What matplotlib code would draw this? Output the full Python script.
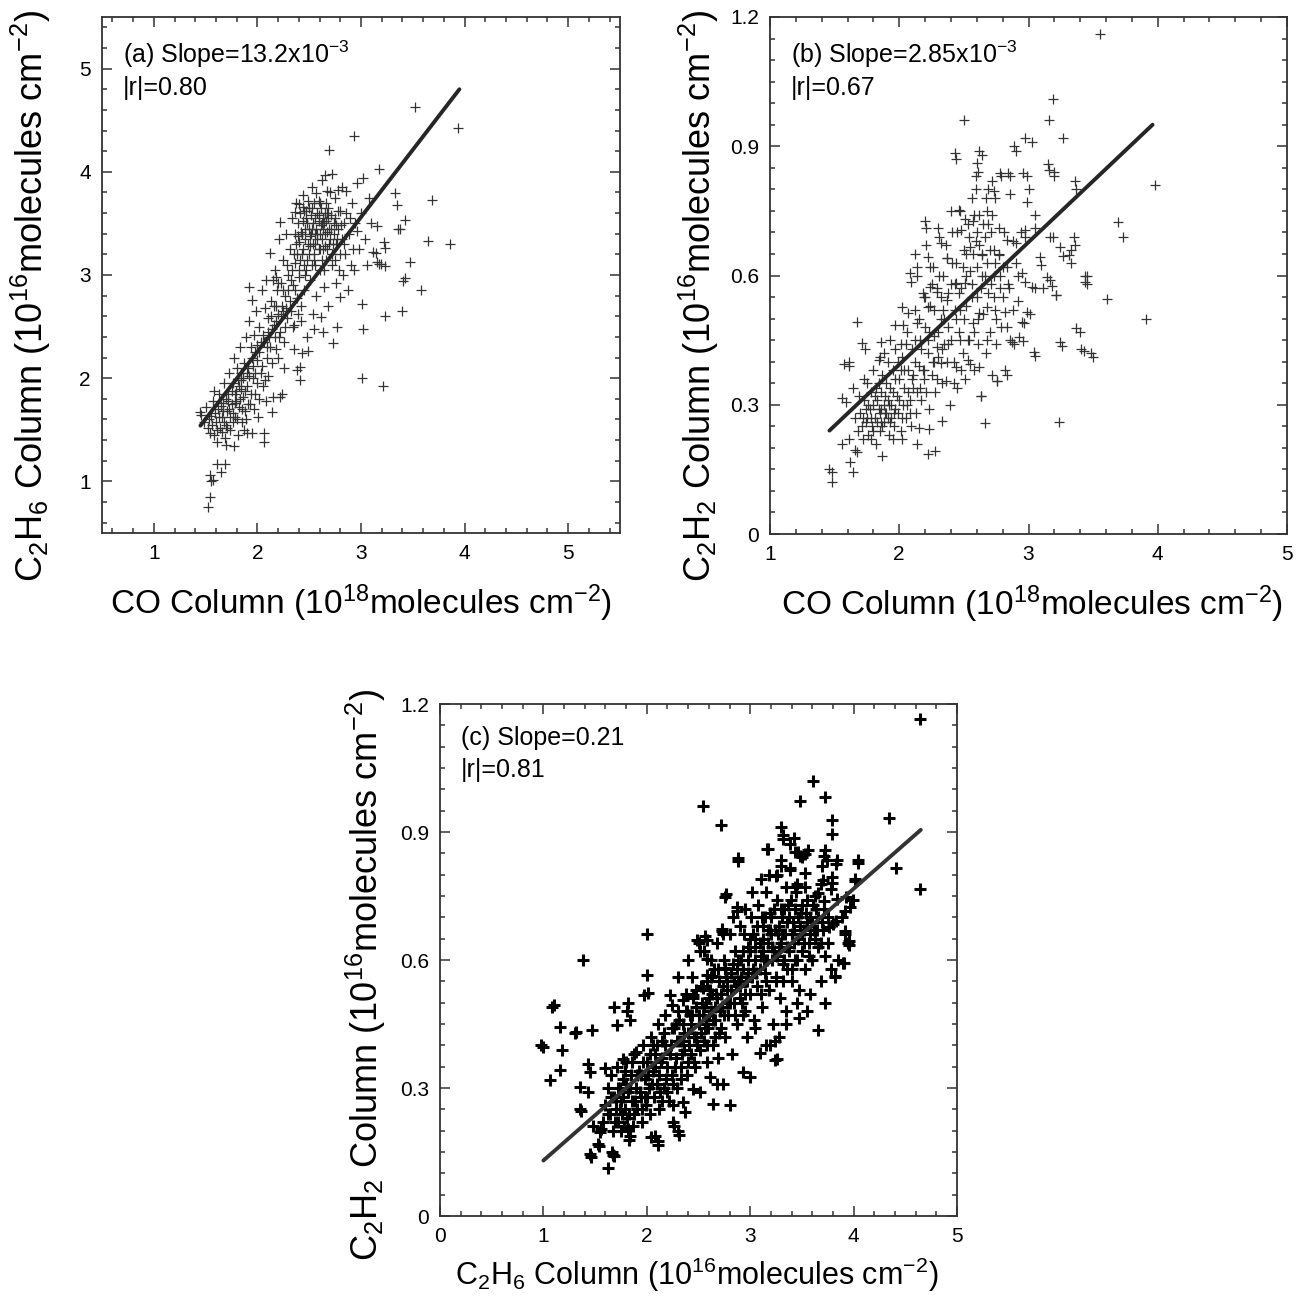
"""Three-panel CO / C2H6 / C2H2 column correlation scatter plots."""

import matplotlib
matplotlib.use("Agg")
import matplotlib.pyplot as plt
import numpy as np
from matplotlib.ticker import MultipleLocator

plt.rcParams["font.family"] = ["Liberation Sans", "DejaVu Sans"]
plt.rcParams["mathtext.fontset"] = "custom"
plt.rcParams["mathtext.rm"] = "Liberation Sans"
plt.rcParams["mathtext.it"] = "Liberation Sans:italic"
plt.rcParams["mathtext.bf"] = "Liberation Sans:bold"

# (a) CO column (1e18) vs C2H6 column (1e16)
PTS_A = [
    (1.52, 0.75), (1.54, 0.85), (1.55, 1.00), (1.54, 1.06), (1.57, 1.01), (1.61, 1.17), (1.65, 1.09),
    (1.69, 1.17), (1.70, 1.35), (1.77, 1.34), (1.45, 1.67), (1.46, 1.64), (1.48, 1.58), (1.50, 1.72),
    (1.52, 1.52), (1.54, 1.47), (1.53, 1.60), (1.55, 1.63), (1.57, 1.78), (1.58, 1.45), (1.58, 1.88),
    (1.60, 1.58), (1.61, 1.38), (1.62, 1.70), (1.63, 1.85), (1.64, 1.52), (1.66, 1.62), (1.67, 1.76),
    (1.68, 1.95), (1.69, 1.42), (1.70, 1.55), (1.71, 1.68), (1.72, 1.85), (1.73, 2.05), (1.74, 1.50),
    (1.74, 1.62), (1.75, 1.75), (1.76, 1.95), (1.76, 1.58), (1.77, 2.20), (1.78, 1.62), (1.79, 1.88),
    (1.79, 1.78), (1.80, 2.10), (1.81, 1.45), (1.82, 1.72), (1.82, 1.92), (1.83, 2.30), (1.84, 1.98),
    (1.84, 2.05), (1.85, 1.58), (1.86, 1.82), (1.87, 2.15), (1.87, 1.50), (1.88, 1.68), (1.89, 2.40),
    (1.90, 1.92), (1.90, 1.47), (1.91, 2.10), (1.92, 2.55), (1.93, 1.75), (1.94, 2.30), (1.95, 1.47),
    (1.95, 2.76), (1.96, 2.00), (1.97, 2.42), (1.98, 1.85), (1.99, 2.65), (2.00, 2.18), (2.01, 1.62),
    (2.02, 2.50), (2.03, 2.05), (2.04, 2.85), (2.05, 1.92), (2.06, 1.38), (2.06, 1.47), (2.06, 2.35),
    (2.07, 2.68), (2.08, 1.78), (2.09, 2.20), (2.10, 2.58), (1.92, 2.88), (1.98, 2.25), (2.03, 2.35),
    (2.08, 2.95), (2.00, 1.95), (2.10, 2.02), (2.11, 2.40), (2.12, 3.21), (2.13, 2.75), (2.14, 1.67),
    (2.14, 2.15), (2.15, 1.82), (2.15, 2.95), (2.16, 2.52), (2.17, 3.05), (2.18, 2.28), (2.19, 2.85),
    (2.20, 2.62), (2.21, 3.35), (2.22, 1.82), (2.22, 2.45), (2.22, 3.51), (2.23, 2.92), (2.24, 1.85),
    (2.24, 2.70), (2.25, 3.15), (2.26, 2.35), (2.27, 2.80), (2.28, 3.40), (2.29, 2.58), (2.30, 3.00),
    (2.13, 2.60), (2.18, 2.98), (2.26, 2.10), (2.20, 2.20), (2.28, 2.68), (2.17, 2.40), (2.31, 3.25),
    (2.32, 2.65), (2.33, 3.55), (2.34, 2.90), (2.35, 2.28), (2.36, 3.12), (2.37, 3.70), (2.38, 2.08),
    (2.38, 2.78), (2.39, 3.38), (2.40, 2.98), (2.41, 1.98), (2.41, 2.11), (2.41, 3.60), (2.42, 2.55),
    (2.43, 2.24), (2.43, 3.20), (2.44, 3.78), (2.45, 2.85), (2.46, 3.45), (2.47, 3.05), (2.48, 2.40),
    (2.49, 2.26), (2.49, 3.30), (2.50, 3.65), (2.33, 3.05), (2.36, 3.40), (2.40, 3.32), (2.44, 3.52),
    (2.47, 3.62), (2.35, 2.52), (2.45, 3.10), (2.42, 2.70), (2.40, 3.69), (2.36, 3.61), (2.44, 3.66),
    (2.51, 2.95), (2.52, 3.40), (2.53, 3.85), (2.54, 2.62), (2.55, 3.20), (2.56, 3.55), (2.57, 2.80),
    (2.58, 3.35), (2.59, 3.72), (2.60, 3.05), (2.61, 2.59), (2.61, 3.48), (2.62, 3.92), (2.63, 3.25),
    (2.64, 2.88), (2.65, 3.60), (2.65, 3.97), (2.66, 3.15), (2.67, 3.42), (2.68, 2.70), (2.69, 4.21),
    (2.69, 3.30), (2.70, 3.80), (2.72, 3.98), (2.53, 3.10), (2.56, 3.30), (2.58, 3.60), (2.60, 3.40),
    (2.62, 3.15), (2.64, 3.50), (2.66, 3.70), (2.68, 3.55), (2.55, 2.48), (2.63, 2.45), (2.57, 3.79),
    (2.67, 3.81), (2.50, 3.45), (2.54, 3.50), (2.59, 3.25), (2.71, 3.45), (2.72, 3.10), (2.73, 2.34),
    (2.74, 3.50), (2.75, 3.75), (2.76, 2.92), (2.77, 2.50), (2.77, 3.35), (2.78, 3.62), (2.78, 3.82),
    (2.80, 2.79), (2.80, 3.20), (2.81, 3.48), (2.82, 3.85), (2.83, 3.00), (2.84, 3.30), (2.86, 3.60),
    (2.86, 3.81), (2.87, 2.85), (2.88, 3.40), (2.90, 3.10), (2.91, 3.70), (2.92, 3.25), (2.93, 4.35),
    (2.93, 3.05), (2.94, 3.50), (2.96, 3.89), (2.96, 3.43), (2.75, 3.15), (2.79, 3.05), (2.85, 3.20),
    (2.89, 3.55), (2.98, 3.25), (3.00, 3.60), (3.01, 2.00), (3.01, 2.72), (3.02, 2.48), (3.02, 3.94),
    (3.04, 3.35), (3.06, 3.10), (3.08, 3.75), (3.10, 3.50), (3.12, 3.22), (3.14, 3.21), (3.15, 3.13),
    (3.15, 3.47), (3.17, 3.11), (3.17, 4.03), (3.19, 3.11), (3.21, 1.92), (3.22, 3.32), (3.23, 2.60),
    (3.23, 3.09), (3.23, 3.26), (3.33, 3.79), (3.35, 3.68), (3.36, 3.45), (3.38, 3.45), (3.40, 2.65),
    (3.41, 2.94), (3.42, 3.53), (3.42, 2.97), (3.47, 3.13), (3.52, 4.63), (3.58, 2.85), (3.65, 3.33),
    (3.69, 3.73), (3.86, 3.30), (3.94, 4.42),
    # dense core
    (1.56, 1.55), (1.59, 1.66), (1.61, 1.50), (1.63, 1.62), (1.65, 1.73), (1.66, 1.48), (1.68, 1.58),
    (1.70, 1.80), (1.71, 1.52), (1.73, 1.70), (1.75, 1.88), (1.76, 1.66), (1.78, 1.76), (1.80, 1.60),
    (1.81, 1.98), (1.83, 1.80), (1.85, 1.70), (1.86, 2.00), (1.88, 1.88), (1.89, 1.60), (1.91, 1.75),
    (1.92, 2.02), (1.94, 1.85), (1.95, 2.20), (1.97, 1.70), (1.98, 2.05), (2.00, 2.32), (2.02, 1.80),
    (2.04, 2.12), (2.05, 2.42), (2.07, 1.98), (2.09, 2.30), (2.12, 2.30), (2.14, 2.48), (2.16, 2.70),
    (2.18, 2.55), (2.20, 2.92), (2.21, 2.40), (2.23, 2.60), (2.25, 2.85), (2.27, 2.50), (2.29, 3.10),
    (2.31, 2.75), (2.32, 2.95), (2.34, 2.50), (2.36, 2.85), (2.38, 3.20), (2.39, 2.62), (2.37, 3.30),
    (2.39, 3.50), (2.41, 3.15), (2.42, 3.42), (2.44, 3.25), (2.45, 3.62), (2.46, 3.00), (2.48, 3.50),
    (2.49, 3.72), (2.50, 3.20), (2.51, 3.38), (2.52, 3.58), (2.54, 3.30), (2.55, 3.70), (2.56, 3.10),
    (2.57, 3.45), (2.59, 3.52), (2.60, 3.25), (2.61, 3.65), (2.62, 3.35), (2.63, 3.55), (2.64, 3.05),
    (2.65, 3.40), (2.66, 3.52), (2.67, 3.25), (2.68, 3.65), (2.70, 3.35), (2.71, 3.58), (2.72, 3.20),
    (2.74, 3.40), (2.75, 3.55), (2.76, 3.30), (2.78, 3.45), (2.80, 3.62), (2.82, 3.35), (2.84, 3.50),
    (2.46, 3.35), (2.53, 3.45), (2.58, 3.40), (2.63, 3.45), (2.43, 3.40), (2.47, 3.55), (2.51, 3.28),
    (2.53, 3.65), (2.56, 3.40), (2.59, 3.58), (2.62, 3.50), (2.65, 3.28), (2.67, 3.60), (2.69, 3.45),
    (2.73, 3.30), (2.76, 3.48), (2.55, 3.15), (2.60, 3.70), (2.48, 3.15), (2.40, 3.05), (2.35, 3.20),
    (2.30, 2.85), (2.25, 2.65), (2.18, 2.70), (2.10, 2.45), (2.02, 2.25), (1.96, 2.12), (1.90, 2.05),
    (1.84, 1.90), (1.78, 1.85), (1.72, 1.78), (1.67, 1.68),
]

# (b) CO column (1e18) vs C2H2 column (1e16)
PTS_B = [
    (1.48, 0.12), (1.48, 0.145), (1.46, 0.15), (1.64, 0.143), (1.62, 0.167), (1.655, 0.195), (1.67, 0.19),
    (1.56, 0.21), (1.615, 0.22), (1.87, 0.18), (2.22, 0.185), (2.28, 0.193), (1.95, 0.22), (2.02, 0.22),
    (2.135, 0.21), (2.66, 0.257), (3.235, 0.26), (2.33, 0.263), (2.15, 0.247), (2.23, 0.243), (1.56, 0.315),
    (1.59, 0.307), (1.64, 0.338), (1.57, 0.395), (1.615, 0.39), (1.67, 0.493), (1.71, 0.444), (1.735, 0.43),
    (1.85, 0.41), (1.855, 0.446), (1.68, 0.24), (1.70, 0.28), (1.72, 0.22), (1.73, 0.31), (1.74, 0.26),
    (1.75, 0.35), (1.76, 0.23), (1.77, 0.29), (1.78, 0.33), (1.79, 0.25), (1.80, 0.38), (1.81, 0.27),
    (1.82, 0.21), (1.83, 0.31), (1.84, 0.35), (1.85, 0.24), (1.86, 0.29), (1.87, 0.37), (1.88, 0.26),
    (1.89, 0.32), (1.90, 0.28), (1.91, 0.27), (1.91, 0.40), (1.92, 0.23), (1.93, 0.34), (1.94, 0.30),
    (1.95, 0.38), (1.96, 0.25), (1.97, 0.43), (1.98, 0.32), (1.99, 0.28), (2.00, 0.36), (2.01, 0.24),
    (2.02, 0.41), (2.03, 0.30), (2.04, 0.34), (2.05, 0.27), (2.06, 0.47), (2.07, 0.38), (2.08, 0.31),
    (2.09, 0.25), (2.10, 0.43), (1.75, 0.27), (1.80, 0.30), (1.85, 0.28), (1.72, 0.27), (1.78, 0.22),
    (1.83, 0.26), (1.88, 0.30), (1.93, 0.26), (1.97, 0.29), (2.11, 0.34), (2.12, 0.52), (2.13, 0.28),
    (2.14, 0.60), (2.15, 0.39), (2.16, 0.45), (2.17, 0.31), (2.18, 0.56), (2.19, 0.36), (2.20, 0.48),
    (2.21, 0.67), (2.22, 0.42), (2.23, 0.29), (2.24, 0.53), (2.25, 0.37), (2.26, 0.62), (2.27, 0.46),
    (2.28, 0.33), (2.29, 0.57), (2.30, 0.41), (2.31, 0.69), (2.32, 0.50), (2.33, 0.35), (2.34, 0.60),
    (2.35, 0.44), (2.36, 0.355), (2.37, 0.64), (2.38, 0.48), (2.39, 0.30), (2.40, 0.58), (2.41, 0.70),
    (2.42, 0.40), (2.43, 0.52), (2.44, 0.63), (2.45, 0.34), (2.46, 0.47), (2.47, 0.75), (2.48, 0.57),
    (2.49, 0.42), (2.50, 0.66), (2.51, 0.36), (2.52, 0.53), (2.53, 0.72), (2.54, 0.45), (2.55, 0.395),
    (2.55, 0.61), (2.56, 0.78), (2.57, 0.49), (2.58, 0.38), (2.59, 0.68), (2.60, 0.55), (2.61, 0.44),
    (2.62, 0.74), (2.63, 0.32), (2.64, 0.60), (2.65, 0.51), (2.66, 0.69), (2.67, 0.42), (2.68, 0.63),
    (2.69, 0.56), (2.70, 0.47), (2.71, 0.70), (2.72, 0.37), (2.73, 0.60), (2.74, 0.52), (2.75, 0.44),
    (2.76, 0.355), (2.77, 0.65), (2.78, 0.57), (2.79, 0.48), (2.80, 0.62), (2.82, 0.515), (2.83, 0.37),
    (2.83, 0.48), (2.84, 0.58), (2.86, 0.45), (2.88, 0.52), (2.89, 0.44), (2.90, 0.63), (2.92, 0.54),
    (2.93, 0.458), (2.95, 0.605), (2.95, 0.493), (2.96, 0.448), (2.965, 0.49), (2.99, 0.516), (3.01, 0.51),
    (3.03, 0.574), (3.04, 0.423), (3.05, 0.413), (3.05, 0.57), (3.55, 1.16), (3.19, 1.01), (3.16, 0.96),
    (2.50, 0.96), (3.27, 0.92), (2.97, 0.92), (3.03, 0.91), (2.89, 0.90), (2.90, 0.89), (2.44, 0.87),
    (2.64, 0.88), (2.60, 0.86), (2.61, 0.84), (2.59, 0.83), (2.59, 0.80), (3.16, 0.845), (3.20, 0.84),
    (3.20, 0.83), (3.37, 0.80), (3.98, 0.81), (2.79, 0.83), (2.86, 0.83), (2.99, 0.83), (3.00, 0.80),
    (2.69, 0.80), (2.74, 0.78), (2.86, 0.79), (2.99, 0.77), (3.69, 0.725), (3.73, 0.69), (3.05, 0.74),
    (3.05, 0.71), (2.97, 0.705), (2.97, 0.69), (3.17, 0.69), (3.19, 0.69), (3.36, 0.67), (3.33, 0.66),
    (3.27, 0.645), (3.33, 0.63), (3.10, 0.625), (3.45, 0.58), (3.18, 0.575), (2.97, 0.585), (2.21, 0.71),
    (2.30, 0.71), (2.12, 0.65), (2.09, 0.585), (2.43, 0.885), (2.62, 0.89), (2.78, 0.838), (2.84, 0.838),
    (2.715, 0.82), (2.73, 0.795), (2.68, 0.75), (2.96, 0.838), (3.15, 0.858), (3.36, 0.82), (2.20, 0.726),
    (2.40, 0.75), (2.46, 0.753), (2.51, 0.73), (2.57, 0.726), (2.48, 0.706), (2.32, 0.675), (2.37, 0.64),
    (2.55, 0.667), (2.64, 0.648), (2.77, 0.648), (2.83, 0.683), (2.90, 0.675), (3.24, 0.667), (3.31, 0.648),
    (3.35, 0.69), (3.09, 0.644), (3.14, 0.597), (3.21, 0.555), (3.44, 0.60), (3.44, 0.586), (2.08, 0.605),
    (2.135, 0.62), (2.225, 0.644), (2.44, 0.582), (2.51, 0.582), (2.24, 0.574), (2.19, 0.551), (2.29, 0.562),
    (2.37, 0.543), (2.02, 0.528), (2.07, 0.512), (1.97, 0.485), (2.03, 0.485), (2.135, 0.489), (2.225, 0.528),
    (1.93, 0.45), (1.88, 0.419), (1.84, 0.403), (2.01, 0.442), (2.12, 0.45), (1.61, 0.40), (2.68, 0.528),
    (2.73, 0.551), (2.62, 0.512), (2.47, 0.45), (2.53, 0.403), (2.62, 0.388), (2.44, 0.388), (2.29, 0.434),
    (2.19, 0.38), (2.32, 0.396), (2.87, 0.446), (2.82, 0.38), (3.24, 0.446), (3.37, 0.477), (3.41, 0.43),
    (3.48, 0.419), (2.76, 0.355), (2.63, 0.32), (3.26, 0.437), (3.40, 0.47), (3.43, 0.424), (3.50, 0.41),
    (3.21, 0.554), (3.17, 0.59), (3.11, 0.57), (3.45, 0.60), (3.61, 0.545), (3.91, 0.50),
    # dense core
    (1.66, 0.27), (1.69, 0.32), (1.71, 0.25), (1.73, 0.36), (1.76, 0.30), (1.78, 0.27), (1.80, 0.24),
    (1.82, 0.34), (1.84, 0.29), (1.86, 0.33), (1.87, 0.25), (1.89, 0.28), (1.90, 0.35), (1.92, 0.30),
    (1.94, 0.27), (1.95, 0.33), (1.97, 0.36), (1.99, 0.40), (2.00, 0.31), (2.02, 0.27), (2.04, 0.38),
    (2.05, 0.44), (2.07, 0.33), (2.08, 0.28), (2.10, 0.36), (2.12, 0.40), (2.14, 0.33), (2.15, 0.50),
    (2.17, 0.43), (2.18, 0.38), (2.20, 0.55), (2.21, 0.33), (2.23, 0.47), (2.24, 0.62), (2.26, 0.40),
    (2.27, 0.52), (2.29, 0.36), (2.30, 0.47), (2.31, 0.60), (2.33, 0.43), (2.34, 0.52), (2.36, 0.67),
    (2.37, 0.40), (2.38, 0.56), (2.40, 0.45), (2.41, 0.63), (2.42, 0.35), (2.44, 0.50), (2.45, 0.70),
    (2.46, 0.56), (2.48, 0.38), (2.49, 0.62), (2.50, 0.50), (2.52, 0.60), (2.53, 0.45), (2.54, 0.69),
    (2.56, 0.55), (2.57, 0.65), (2.58, 0.74), (2.60, 0.62), (2.61, 0.50), (2.62, 0.67), (2.63, 0.57),
    (2.65, 0.72), (2.66, 0.60), (2.67, 0.78), (2.68, 0.45), (2.70, 0.66), (2.71, 0.58), (2.72, 0.74),
    (2.74, 0.63), (2.75, 0.50), (2.77, 0.71), (2.78, 0.60), (2.80, 0.55), (2.81, 0.70), (2.83, 0.62),
    (2.85, 0.57), (2.88, 0.68), (2.92, 0.60), (2.94, 0.70), (1.74, 0.29), (1.81, 0.32), (1.86, 0.26),
    (1.91, 0.31), (1.96, 0.28), (2.01, 0.38), (2.06, 0.30), (2.11, 0.37), (2.16, 0.34), (2.22, 0.45),
    (2.27, 0.40), (2.32, 0.55), (2.38, 0.44), (2.43, 0.58), (2.47, 0.52), (2.52, 0.65), (2.56, 0.58),
    (2.60, 0.70), (2.64, 0.65), (2.69, 0.72), (2.73, 0.66), (2.58, 0.47), (2.35, 0.50), (2.25, 0.58),
]

# (c) C2H6 column (1e16) vs C2H2 column (1e16)
PTS_C = [
    (4.64, 1.165), (3.61, 1.02), (3.72, 0.982), (3.48, 0.972), (2.545, 0.962), (2.72, 0.916), (3.79, 0.928),
    (3.79, 0.896), (4.34, 0.932), (3.30, 0.912), (3.32, 0.884), (4.41, 0.816), (4.64, 0.766), (4.04, 0.828),
    (4.01, 0.784), (2.885, 0.832), (2.76, 0.748), (3.16, 0.86), (3.385, 0.872), (3.43, 0.852), (3.48, 0.844),
    (3.53, 0.848), (3.71, 0.844), (3.69, 0.82), (3.83, 0.824), (3.25, 0.796), (3.30, 0.82), (3.385, 0.812),
    (3.53, 0.804), (3.53, 0.772), (3.43, 0.772), (3.70, 0.788), (3.79, 0.78), (3.66, 0.756), (3.99, 0.74),
    (3.92, 0.716), (3.83, 0.692), (2.87, 0.716), (2.73, 0.668), (2.49, 0.648), (2.585, 0.648), (2.00, 0.66),
    (3.76, 0.677), (3.96, 0.636), (3.92, 0.66), (3.32, 0.893), (3.42, 0.885), (3.465, 0.854), (3.56, 0.858),
    (3.50, 0.842), (3.175, 0.861), (3.30, 0.834), (3.385, 0.815), (3.256, 0.799), (3.35, 0.772), (3.45, 0.779),
    (3.72, 0.858), (3.74, 0.834), (3.84, 0.834), (3.79, 0.795), (3.78, 0.767), (3.68, 0.779), (3.63, 0.751),
    (3.71, 0.739), (3.84, 0.743), (3.93, 0.747), (3.965, 0.724), (3.885, 0.70), (3.80, 0.684), (3.92, 0.668),
    (3.95, 0.641), (3.755, 0.641), (3.90, 0.594), (3.82, 0.562), (4.01, 0.79), (4.045, 0.834), (2.885, 0.838),
    (2.77, 0.755), (2.87, 0.724), (2.725, 0.673), (2.74, 0.661), (2.56, 0.657), (2.50, 0.641), (2.51, 0.622),
    (2.58, 0.602), (2.00, 0.566), (1.97, 0.519), (2.01, 0.523), (1.82, 0.499), (1.805, 0.48), (1.84, 0.46),
    (1.10, 0.495), (1.16, 0.444), (1.32, 0.432), (1.47, 0.436), (1.00, 0.397), (0.98, 0.40), (1.18, 0.389),
    (1.16, 0.342), (1.06, 0.318), (1.35, 0.251), (1.45, 0.145), (1.66, 0.149), (1.68, 0.141), (1.53, 0.168),
    (1.55, 0.196), (1.56, 0.204), (1.48, 0.212), (1.84, 0.188), (1.82, 0.204), (2.08, 0.188), (2.11, 0.176),
    (2.256, 0.259), (2.35, 0.267), (2.37, 0.243), (2.256, 0.22), (2.305, 0.20), (2.64, 0.263), (2.80, 0.259),
    (1.68, 0.491), (1.71, 0.448), (1.43, 0.357), (1.45, 0.338), (1.60, 0.346), (1.77, 0.369), (1.90, 0.385),
    (1.35, 0.302), (1.43, 0.29), (2.225, 0.519), (2.24, 0.495), (2.35, 0.507), (2.45, 0.519), (2.386, 0.48),
    (2.546, 0.535), (2.58, 0.566), (2.63, 0.562), (2.756, 0.582), (2.773, 0.55), (3.256, 0.369), (3.19, 0.40),
    (3.24, 0.409), (3.095, 0.381), (3.00, 0.326), (2.93, 0.338), (2.74, 0.31), (2.676, 0.31), (2.61, 0.326),
    (2.515, 0.29), (2.45, 0.298), (1.384, 0.60), (3.66, 0.437), (3.91, 0.593), (3.96, 0.645), (3.82, 0.559),
    (3.47, 0.465), (3.55, 0.481), (3.24, 0.365), (2.11, 0.167), (2.045, 0.185), (2.31, 0.189), (2.26, 0.211),
    (1.83, 0.177), (1.54, 0.165), (1.46, 0.138), (1.67, 0.142), (1.62, 0.112), (1.36, 0.245), (1.08, 0.491),
    (1.31, 0.429), (1.58, 0.22), (1.60, 0.26), (1.62, 0.30), (1.64, 0.24), (1.65, 0.33), (1.67, 0.20),
    (1.68, 0.28), (1.70, 0.25), (1.71, 0.35), (1.72, 0.22), (1.74, 0.30), (1.75, 0.27), (1.77, 0.32),
    (1.78, 0.21), (1.79, 0.25), (1.80, 0.36), (1.82, 0.29), (1.83, 0.24), (1.85, 0.33), (1.86, 0.27),
    (1.87, 0.21), (1.88, 0.38), (1.90, 0.30), (1.91, 0.25), (1.92, 0.34), (1.94, 0.28), (1.95, 0.22),
    (1.96, 0.40), (1.98, 0.32), (1.99, 0.26), (2.00, 0.36), (2.02, 0.30), (2.03, 0.24), (2.04, 0.42),
    (2.06, 0.34), (2.07, 0.28), (2.08, 0.38), (2.10, 0.31), (2.11, 0.45), (2.12, 0.25), (2.14, 0.36),
    (2.15, 0.41), (2.17, 0.30), (2.18, 0.47), (2.20, 0.35), (2.21, 0.27), (2.23, 0.40), (2.24, 0.33),
    (2.26, 0.44), (2.28, 0.37), (2.29, 0.30), (2.30, 0.48), (2.32, 0.41), (2.33, 0.35), (2.35, 0.45),
    (2.36, 0.39), (2.38, 0.52), (2.39, 0.33), (2.40, 0.43), (2.42, 0.47), (2.43, 0.38), (2.44, 0.56),
    (2.46, 0.42), (2.47, 0.35), (2.48, 0.49), (2.50, 0.45), (2.51, 0.39), (2.52, 0.54), (2.54, 0.47),
    (2.55, 0.41), (2.57, 0.50), (2.58, 0.36), (2.59, 0.44), (2.61, 0.53), (2.62, 0.48), (2.64, 0.40),
    (2.65, 0.58), (2.66, 0.46), (2.68, 0.51), (2.69, 0.37), (2.70, 0.55), (2.72, 0.44), (2.73, 0.49),
    (2.75, 0.60), (2.76, 0.42), (2.78, 0.53), (2.79, 0.47), (2.81, 0.57), (2.82, 0.38), (2.84, 0.50),
    (2.85, 0.62), (2.87, 0.45), (2.88, 0.55), (2.90, 0.51), (2.91, 0.60), (2.93, 0.47), (2.94, 0.66),
    (2.96, 0.55), (2.97, 0.42), (2.98, 0.63), (3.00, 0.52), (3.01, 0.70), (3.03, 0.58), (3.04, 0.46),
    (3.05, 0.65), (3.07, 0.54), (3.08, 0.73), (3.10, 0.61), (3.11, 0.49), (3.12, 0.68), (3.14, 0.57),
    (3.15, 0.76), (3.17, 0.64), (3.18, 0.53), (3.19, 0.71), (3.21, 0.60), (3.22, 0.45), (3.24, 0.67),
    (3.25, 0.56), (3.26, 0.74), (3.28, 0.63), (3.29, 0.51), (3.31, 0.70), (3.32, 0.59), (3.34, 0.66),
    (3.35, 0.48), (3.37, 0.73), (3.38, 0.62), (3.40, 0.55), (3.41, 0.69), (3.43, 0.60), (3.44, 0.76),
    (3.46, 0.65), (3.47, 0.53), (3.49, 0.71), (3.50, 0.62), (3.52, 0.67), (3.53, 0.58), (3.55, 0.74),
    (3.57, 0.64), (3.58, 0.70), (3.60, 0.60), (3.62, 0.67), (3.64, 0.72), (3.66, 0.63), (3.69, 0.69),
    (3.72, 0.61), (3.75, 0.70), (3.78, 0.58), (3.12, 0.62), (3.20, 0.66), (3.30, 0.64), (3.36, 0.58),
    (3.05, 0.60), (2.98, 0.57), (3.42, 0.64), (2.30, 0.56), (2.40, 0.60), (2.55, 0.62), (2.62, 0.60),
    (2.68, 0.64), (2.80, 0.66), (2.83, 0.70), (2.90, 0.68), (2.95, 0.72), (3.02, 0.76), (3.10, 0.79),
    (3.18, 0.80), (3.05, 0.44), (3.15, 0.40), (3.28, 0.42), (3.35, 0.45), (3.45, 0.50), (3.58, 0.52),
    (3.68, 0.55), (3.72, 0.50), (3.85, 0.60),
    # dense core
    (1.62, 0.24), (1.65, 0.28), (1.69, 0.22), (1.72, 0.30), (1.74, 0.25), (1.77, 0.28), (1.79, 0.34),
    (1.81, 0.23), (1.84, 0.30), (1.86, 0.36), (1.89, 0.27), (1.91, 0.33), (1.93, 0.29), (1.96, 0.36),
    (1.98, 0.28), (2.01, 0.33), (2.03, 0.38), (2.05, 0.31), (2.08, 0.35), (2.10, 0.40), (2.12, 0.33),
    (2.15, 0.37), (2.17, 0.43), (2.19, 0.32), (2.22, 0.38), (2.24, 0.44), (2.27, 0.35), (2.29, 0.41),
    (2.31, 0.46), (2.34, 0.38), (2.36, 0.43), (2.38, 0.48), (2.41, 0.40), (2.43, 0.45), (2.45, 0.51),
    (2.48, 0.42), (2.50, 0.47), (2.52, 0.43), (2.55, 0.49), (2.57, 0.45), (2.60, 0.51), (2.62, 0.56),
    (2.64, 0.46), (2.67, 0.52), (2.69, 0.58), (2.71, 0.48), (2.74, 0.54), (2.76, 0.58), (2.78, 0.50),
    (2.81, 0.53), (2.83, 0.59), (2.86, 0.54), (2.88, 0.60), (2.91, 0.56), (2.93, 0.62), (2.95, 0.52),
    (2.98, 0.60), (3.00, 0.65), (3.02, 0.56), (3.05, 0.63), (3.07, 0.68), (3.09, 0.58), (3.12, 0.65),
    (3.14, 0.70), (3.16, 0.60), (3.19, 0.67), (3.21, 0.63), (3.23, 0.72), (3.26, 0.61), (3.28, 0.68),
    (3.31, 0.66), (3.33, 0.72), (3.36, 0.63), (3.38, 0.70), (3.40, 0.66), (3.43, 0.72), (3.45, 0.60),
    (3.48, 0.68), (3.50, 0.73), (3.52, 0.64), (3.55, 0.69), (3.58, 0.66), (3.61, 0.73), (3.63, 0.65),
    (3.66, 0.70), (3.68, 0.64), (3.71, 0.72), (2.20, 0.29), (2.33, 0.32), (2.46, 0.36), (2.58, 0.40),
    (2.70, 0.43), (2.85, 0.47), (2.92, 0.50), (3.10, 0.52), (3.25, 0.55), (3.40, 0.58), (1.70, 0.27),
    (1.76, 0.24), (1.80, 0.31), (1.88, 0.24), (1.94, 0.33), (2.00, 0.28), (2.06, 0.40), (2.13, 0.29),
    (2.18, 0.40), (2.25, 0.31), (2.28, 0.45), (2.35, 0.41), (2.40, 0.36), (2.44, 0.47), (2.49, 0.40),
    (2.53, 0.50), (2.56, 0.44), (2.60, 0.47), (2.63, 0.52), (2.66, 0.49), (2.72, 0.52), (2.75, 0.47),
    (2.77, 0.56), (2.80, 0.50), (2.84, 0.55), (2.87, 0.58), (2.90, 0.54), (2.93, 0.58), (2.97, 0.55),
    (3.00, 0.62), (3.03, 0.66), (3.06, 0.57), (3.09, 0.64), (3.11, 0.70), (3.13, 0.60), (3.17, 0.67),
    (3.20, 0.70), (3.23, 0.62), (3.27, 0.66), (3.30, 0.72), (3.33, 0.60), (3.36, 0.69), (3.39, 0.74),
    (3.42, 0.67), (3.46, 0.70), (3.50, 0.66), (3.54, 0.71), (3.57, 0.61), (3.60, 0.69), (3.65, 0.67),
    (3.70, 0.67), (2.48, 0.53), (2.58, 0.55), (2.66, 0.42), (2.95, 0.48), (3.15, 0.55), (3.32, 0.55),
    (1.75, 0.20), (1.95, 0.25), (2.15, 0.27),
]

# regression line end points
FIT_A_X, FIT_A_Y = [1.45, 3.95], [1.54, 4.80]
FIT_B_X, FIT_B_Y = [1.46, 3.96], [0.24, 0.95]
FIT_C_X, FIT_C_Y = [1.00, 4.65], [0.13, 0.905]

ANNOT_A = ("(a) Slope=13.2x10$^{-3}$", "|r|=0.80")
ANNOT_B = ("(b) Slope=2.85x10$^{-3}$", "|r|=0.67")
ANNOT_C = ("(c) Slope=0.21", "|r|=0.81")

CO_LABEL = "CO Column (10$^{18}$molecules cm$^{-2}$)"
C2H6_LABEL = r"C$_\mathrm{2}$H$_\mathrm{6}$ Column (10$^{16}$molecules cm$^{-2}$)"
C2H2_LABEL = r"C$_\mathrm{2}$H$_\mathrm{2}$ Column (10$^{16}$molecules cm$^{-2}$)"

TICK_FS = 15
XLABEL_FS = 24
YLABEL_FS = 26
ANNOT_FS = 18


def setup_axes(ax, xlim, ylim, xticks, yticks, xlabels, ylabels, xminor, yminor):
    ax.set_xlim(*xlim)
    ax.set_ylim(*ylim)
    ax.set_xticks(xticks)
    ax.set_xticklabels(xlabels)
    ax.set_yticks(yticks)
    ax.set_yticklabels(ylabels)
    ax.xaxis.set_minor_locator(MultipleLocator(xminor))
    ax.yaxis.set_minor_locator(MultipleLocator(yminor))
    ax.tick_params(which="both", direction="in", top=True, right=True, width=1.1, color="0.2")
    ax.tick_params(which="major", length=7, labelsize=TICK_FS, pad=8)
    ax.tick_params(which="minor", length=3.5)
    for sp in ax.spines.values():
        sp.set_linewidth(1.3)
        sp.set_color("0.2")


def annotate(ax, lines, y1, y2):
    ax.text(0.04, y1, lines[0], transform=ax.transAxes, fontsize=ANNOT_FS, va="top", ha="left")
    ax.text(0.04, y2, lines[1], transform=ax.transAxes, fontsize=ANNOT_FS, va="top", ha="left")


fig = plt.figure(figsize=(12.96, 13.10), dpi=100)
W, H = 1296.0, 1310.0

ax_a = fig.add_axes([102 / W, 1 - 533 / H, 518 / W, 516 / H])
ax_b = fig.add_axes([770 / W, 1 - 534 / H, 517 / W, 517 / H])
ax_c = fig.add_axes([440 / W, 1 - 1216 / H, 517 / W, 512 / H])

# (a)
xa, ya = np.array(PTS_A).T
ax_a.plot(xa, ya, ls="none", marker="+", ms=7.5, mew=0.9, color="0.2")
ax_a.plot(FIT_A_X, FIT_A_Y, color="0.15", lw=2.8, solid_capstyle="round")
setup_axes(ax_a, (0.5, 5.5), (0.5, 5.5), [1, 2, 3, 4, 5], [1, 2, 3, 4, 5],
           ["1", "2", "3", "4", "5"], ["1", "2", "3", "4", "5"], 0.2, 0.2)
annotate(ax_a, ANNOT_A, 0.958, 0.885)
ax_a.set_xlabel(CO_LABEL, fontsize=XLABEL_FS)
ax_a.set_ylabel(C2H6_LABEL, fontsize=YLABEL_FS)
ax_a.xaxis.set_label_coords(0.5, -0.095)
ax_a.yaxis.set_label_coords(-0.095, 0.46)

# (b)
xb, yb = np.array(PTS_B).T
ax_b.plot(xb, yb, ls="none", marker="+", ms=7.5, mew=0.9, color="0.2")
ax_b.plot(FIT_B_X, FIT_B_Y, color="0.15", lw=2.8, solid_capstyle="round")
setup_axes(ax_b, (1, 5), (0, 1.2), [1, 2, 3, 4, 5], [0, 0.3, 0.6, 0.9, 1.2],
           ["1", "2", "3", "4", "5"], ["0", "0.3", "0.6", "0.9", "1.2"], 0.2, 0.05)
annotate(ax_b, ANNOT_B, 0.958, 0.885)
ax_b.set_xlabel(CO_LABEL, fontsize=XLABEL_FS)
ax_b.set_ylabel(C2H2_LABEL, fontsize=YLABEL_FS)
ax_b.xaxis.set_label_coords(0.507, -0.095)
ax_b.yaxis.set_label_coords(-0.095, 0.46)

# (c)
xc, yc = np.array(PTS_C).T
ax_c.plot(xc, yc, ls="none", marker="+", ms=8, mew=2.2, color="black")
ax_c.plot(FIT_C_X, FIT_C_Y, color="0.2", lw=2.8, solid_capstyle="round")
setup_axes(ax_c, (0, 5), (0, 1.2), [0, 1, 2, 3, 4, 5], [0, 0.3, 0.6, 0.9, 1.2],
           ["0", "1", "2", "3", "4", "5"], ["0", "0.3", "0.6", "0.9", "1.2"], 0.2, 0.05)
annotate(ax_c, ANNOT_C, 0.958, 0.895)
ax_c.set_xlabel(C2H6_LABEL, fontsize=22)
ax_c.set_ylabel(C2H2_LABEL, fontsize=YLABEL_FS)
ax_c.xaxis.set_label_coords(0.497, -0.078)
ax_c.yaxis.set_label_coords(-0.10, 0.47)

fig.savefig("out.png", dpi=100)
plt.close(fig)
